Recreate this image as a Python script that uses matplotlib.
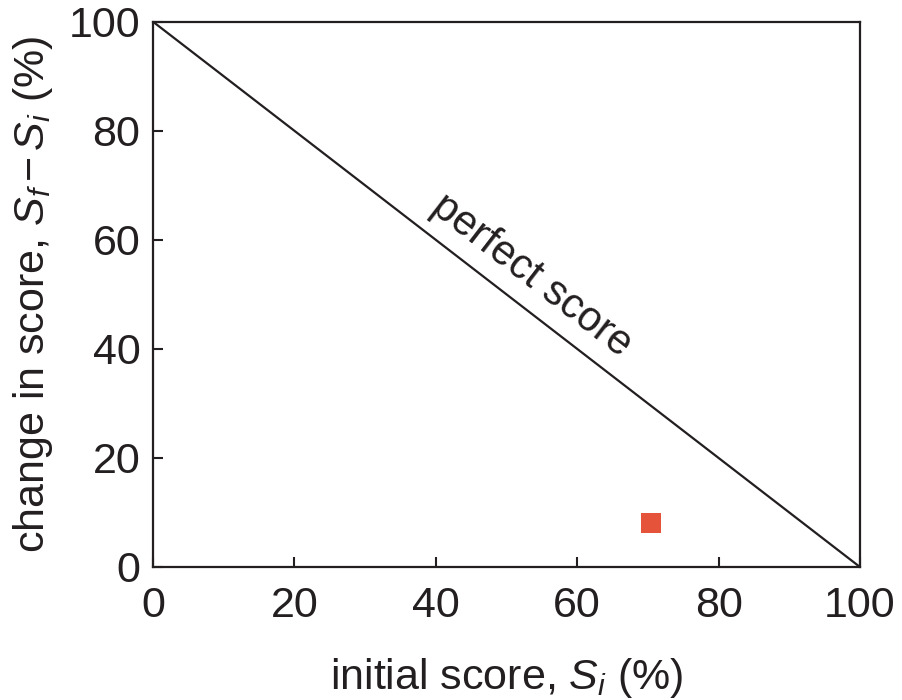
import matplotlib
matplotlib.use("Agg")
import matplotlib.pyplot as plt

plt.rcParams["font.family"] = ["Liberation Sans", "DejaVu Sans"]
plt.rcParams["mathtext.fontset"] = "custom"
plt.rcParams["mathtext.rm"] = "Liberation Sans"
plt.rcParams["mathtext.it"] = "Liberation Sans:italic"

# perfect-score limit line
perfect_x = [0, 100]
perfect_y = [100, 0]

# measured point
initial_score = [70.4]
score_change = [8]

ticks = [0, 20, 40, 60, 80, 100]

fig = plt.figure(figsize=(9.02, 7.0), dpi=100)
ax = fig.add_axes([0.1696, 0.19, 0.7838, 0.779])

ax.plot(perfect_x, perfect_y, color="#231f20", lw=1.6)
ax.scatter(initial_score, score_change, marker="s", s=210, color="#e5533b",
           edgecolors="none", zorder=3)

ax.text(53.5, 53.5, "perfect score", rotation=-37.6, fontsize=30,
        ha="center", va="center", color="#231f20", rotation_mode="anchor")

ax.set_xlim(0, 100)
ax.set_ylim(0, 100)
ax.set_xticks(ticks)
ax.set_yticks(ticks)
ax.tick_params(direction="in", length=7, width=1.5, labelsize=31,
               colors="#231f20", pad=9)
ax.tick_params(axis="x", pad=14)
for s in ax.spines.values():
    s.set_linewidth(1.6)
    s.set_color("#231f20")

ax.set_xlabel(r"initial score, $S_i$ (%)", fontsize=31, color="#231f20", labelpad=21)
ax.set_ylabel("change in score, $S_f\\,$\u2212$\\,S_i$ (%)", fontsize=31,
              color="#231f20", labelpad=10)

fig.savefig("out.png", dpi=100)
